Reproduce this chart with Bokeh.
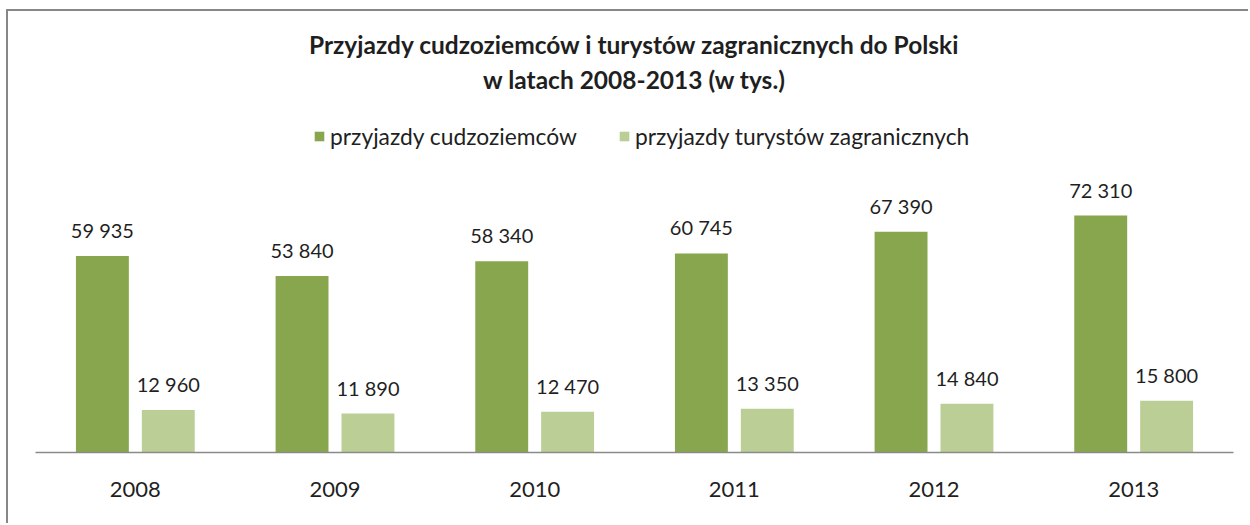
from bokeh.plotting import figure
from bokeh.models import ColumnDataSource, Range1d, FactorRange, Title, Legend
from bokeh.transform import dodge
from bokeh.core.properties import value
from bokeh.embed import file_html
from bokeh.resources import INLINE

years = ["2008", "2009", "2010", "2011", "2012", "2013"]
cudzoziemcy = [59935, 53840, 58340, 60745, 67390, 72310]
turysci = [12960, 11890, 12470, 13350, 14840, 15800]
cudz_labels = ["59 935", "53 840", "58 340", "60 745", "67 390", "72 310"]
tur_labels = ["12 960", "11 890", "12 470", "13 350", "14 840", "15 800"]

title_line1 = "Przyjazdy cudzoziemców i turystów zagranicznych do Polski"
title_line2 = "w latach 2008-2013 (w tys.)"
series_names = ["przyjazdy cudzoziemców", "przyjazdy turystów zagranicznych"]

DARK = "#88A64D"
LIGHT = "#BACE96"
TEXT = "#1f1f1f"
FONT = "Lato"

source = ColumnDataSource(dict(years=years, cudz=cudzoziemcy, tur=turysci,
                               cl=cudz_labels, tl=tur_labels))

p = figure(width=1242, height=514, x_range=FactorRange(*years, range_padding=0),
           y_range=Range1d(0, 100700), output_backend="svg", toolbar_location=None,
           y_axis_location=None, title=None,
           min_border_left=27, min_border_right=17, min_border_bottom=73, min_border_top=111)
p.styles = {"border-left": "2px solid #878787", "border-top": "2px solid #878787",
            "margin-left": "6px", "margin-top": "9px"}

# spacer between the title and the legend area
p.add_layout(Title(text=" ", align="center", text_font=FONT, text_font_size="24.5px",
                   standoff=-2), "above")
p.add_layout(Title(text=title_line2, align="center", text_font=FONT, text_font_size="24.5px",
                   text_font_style="bold", text_color=TEXT, standoff=0), "above")
p.add_layout(Title(text=title_line1, align="center", text_font=FONT, text_font_size="24.5px",
                   text_font_style="bold", text_color=TEXT, standoff=7), "above")

r1 = p.vbar(x=dodge("years", -0.165, range=p.x_range), top="cudz", width=0.265,
            source=source, fill_color=DARK, line_color=None)
r2 = p.vbar(x=dodge("years", 0.165, range=p.x_range), top="tur", width=0.265,
            source=source, fill_color=LIGHT, line_color=None)

p.text(x=dodge("years", -0.165, range=p.x_range), y="cudz", text="cl", source=source,
       y_offset=-26, text_align="center", text_baseline="alphabetic",
       text_font=value(FONT), text_font_size="20px", text_color=TEXT)
p.text(x=dodge("years", 0.165, range=p.x_range), y="tur", text="tl", source=source,
       y_offset=-26, text_align="center", text_baseline="alphabetic",
       text_font=value(FONT), text_font_size="20px", text_color=TEXT)

legend = Legend(items=[(series_names[0], [r1]), (series_names[1], [r2])],
                location=(278, 302), orientation="horizontal",
                glyph_width=12, glyph_height=12, label_standoff=5, spacing=41,
                padding=0, margin=0, border_line_color=None, background_fill_alpha=0,
                label_text_font=FONT, label_text_font_size="22.8px", label_text_color=TEXT)
p.add_layout(legend)

p.xgrid.grid_line_color = None
p.ygrid.grid_line_color = None
p.outline_line_color = None
p.xaxis.axis_line_color = "#8a8a8a"
p.xaxis.axis_line_width = 1.5
p.xaxis.major_tick_line_color = None
p.xaxis.minor_tick_line_color = None
p.xaxis.major_label_standoff = 23
p.xaxis.major_label_text_font = FONT
p.xaxis.major_label_text_font_size = "22px"
p.xaxis.major_label_text_color = TEXT

open("out.html", "w").write(file_html(p, INLINE))
